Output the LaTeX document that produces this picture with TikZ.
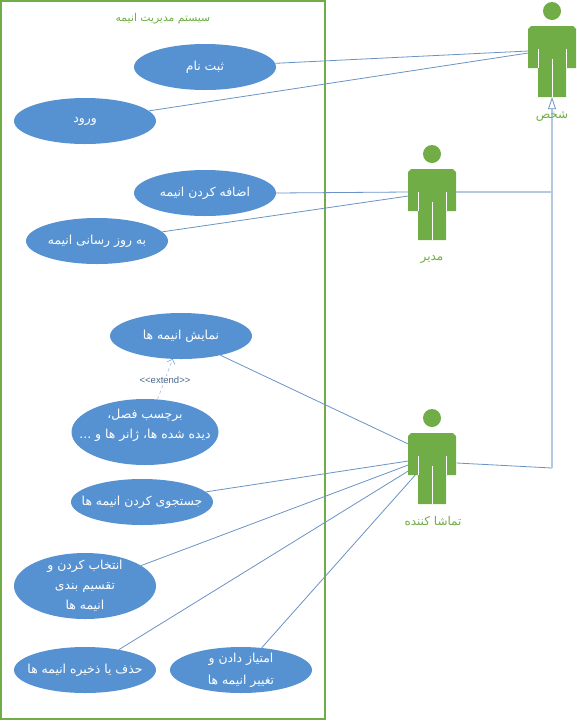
\documentclass[tikz,border=0pt]{standalone}
\usepackage{fontspec}
\usetikzlibrary{shapes.geometric,calc,arrows.meta}
\TeXXeTstate=1
\newfontfamily\arabicfont[Script=Arabic]{DejaVu Sans}
\setsansfont{Liberation Sans}
\newcommand{\rtl}[1]{\beginR #1\endR}
\definecolor{usefill}{HTML}{5692D2}
\definecolor{actorcol}{HTML}{70AD47}
\definecolor{conncol}{HTML}{6A93C4}
\definecolor{genercol}{HTML}{B4C8E2}
\tikzset{
  usecase/.style={ellipse,fill=usefill,inner sep=-30pt,minimum width=142pt,minimum height=46pt,text=white,font=\arabicfont\fontsize{12.4}{20}\selectfont,align=center},
  tallcase/.style={usecase,minimum height=66pt},
  conn/.style={draw=conncol,line width=.8pt},
  gener/.style={draw=genercol,line width=2.4pt},
  actorbox/.style={inner sep=0pt,minimum width=47pt,minimum height=71pt},
  greenlabel/.style={text=actorcol,font=\arabicfont\fontsize{12}{14}\selectfont,inner sep=0pt},
  actorfig/.pic={
    \fill[actorcol] (0,-15) circle (9);
    \fill[actorcol] (-21,0)--(21,0)--(24,3)--(24,42)--(14,42)--(14,71)--(-14,71)--(-14,42)--(-24,42)--(-24,3)--cycle;
    \draw[white,line width=.8pt] (-14,23)--(-14,42) (14,23)--(14,42) (0,33)--(0,71);
  }
}
\begin{document}
\begin{tikzpicture}[x=1pt,y=-1pt]
\useasboundingbox (0,0) rectangle (577,721);
\draw[draw=actorcol,line width=1.2pt] (1,1) rectangle (325,719);
\node[greenlabel,font=\arabicfont\fontsize{10.8}{13}\selectfont] (title) at (163,19) {\rtl{سیستم مدیریت انیمه}};

\node[usecase] (reg) at (205,67) {\rtl{ثبت نام}};
\node[usecase] (login) at (85,121) {\rtl{ورود}};
\node[usecase] (add) at (205,193) {\rtl{اضافه کردن انیمه}};
\node[usecase] (upd) at (97,241) {\rtl{به روز رسانی انیمه}};
\node[usecase] (show) at (181,336) {\rtl{نمایش انیمه ها}};
\node[tallcase,minimum width=147pt] (tag) at (145,432) {\rtl{برچسب فصل،}\\\rtl{دیده شده ها، ژانر ها و ...}\\[-4pt]\mbox{}};
\node[usecase] (find) at (142,502) {\rtl{جستجوی کردن انیمه ها}};
\node[tallcase] (pick) at (85,586) {\rtl{انتخاب کردن و}\\\rtl{تقسیم بندی}\\\rtl{انیمه ها}};
\node[usecase] (del) at (85,670) {\rtl{حذف یا ذخیره انیمه ها}};
\node[usecase] (rate) at (241,670) {\rtl{امتیاز دادن و}\\[2pt]\rtl{تغییر انیمه ها}};

\node[actorbox] (person) at (552,61.5) {};
\node[actorbox] (admin) at (432,204.5) {};
\node[actorbox] (viewer) at (432,468.5) {};
\pic at (552,26) {actorfig};
\pic at (432,169) {actorfig};
\pic at (432,433) {actorfig};
\coordinate (junc) at (552,468);
\coordinate (adminout) at ($(admin.east)+(0,-12.5)$);

\draw[conn] (reg.3) -- ($(person.west)+(0,-10.5)$);
\draw[conn] (login.9.5) -- ($(person.west)+(0,-8.5)$);
\draw[conn] (add.east) -- ($(admin.west)+(0,-12.5)$);
\draw[conn] (upd.8.6) -- ($(admin.west)+(0,-8.5)$);
\draw[conn] (show.-26) -- ($(viewer.west)+(0,-24.5)$);
\draw[conn] (find.9.5) -- ($(viewer.west)+(0,-7.5)$);
\draw[conn] (pick.20) -- ($(viewer.west)+(0,-3.5)$);
\draw[conn] (del.31) -- ($(viewer.west)+(0,2.5)$);
\draw[conn] (rate.47.6) -- ($(viewer.west)+(7,6.5)$);
\draw[conn] ($(viewer.east)+(1,-5.5)$) -- (junc);
\draw[gener] (adminout) -- (adminout -| junc);
\draw[gener,-{Triangle[open,length=12pt,width=8pt,color=conncol,line width=.8pt]}] (junc) -- (person.south);
\draw[draw=genercol,line width=.8pt,dashed,-{Straight Barb[length=4pt,width=8pt,color=conncol,line width=.5pt]}] (tag.69) -- (show.-110);
\node[font=\sffamily\fontsize{9.5}{11}\selectfont,text=conncol!70!black,fill=white,inner sep=1pt] (ext) at (165,380) {<{}<extend>{}>};

\node[greenlabel] (lperson) at (552,116) {\rtl{شخص}};
\node[greenlabel] (ladmin) at (432,259) {\rtl{مدیر}};
\node[greenlabel] (lviewer) at (433,521) {\rtl{تماشا کننده}};
\end{tikzpicture}
\end{document}
